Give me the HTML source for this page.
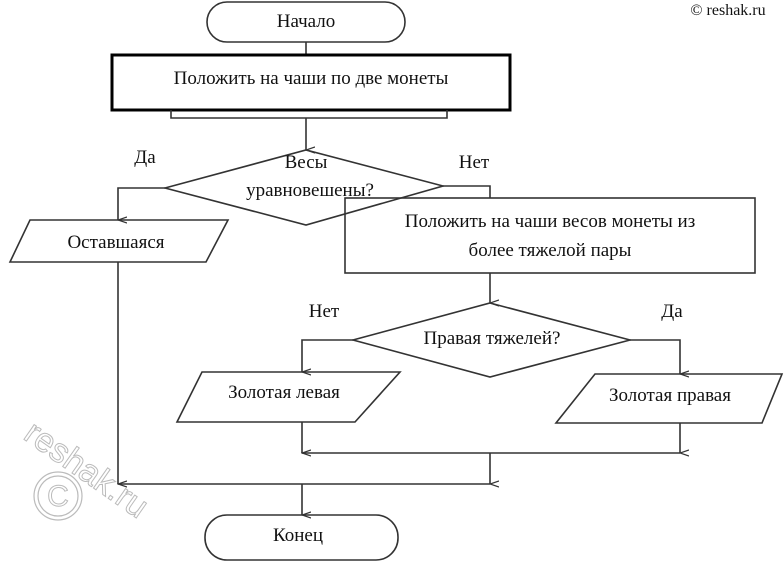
<!DOCTYPE html>
<html><head><meta charset="utf-8"><style>
html,body{margin:0;padding:0;background:#fff;}
svg{display:block;}
text{font-family:"Liberation Serif",serif;fill:#111;}
</style></head><body>
<svg width="784" height="564" viewBox="0 0 784 564" xmlns="http://www.w3.org/2000/svg">
<defs><marker id="a" markerWidth="8" markerHeight="10" refX="4" refY="9" orient="auto" markerUnits="userSpaceOnUse"><path d="M1,0 L4,9 L7,0" fill="none" stroke="#333" stroke-width="1.2"/></marker></defs>
<g fill="none" stroke="#333" stroke-width="1.6">
<rect x="207" y="2" width="198" height="40" rx="20"/>
<line x1="306" y1="42" x2="306" y2="55"/>
<rect x="112" y="55" width="398" height="55" stroke="#000" stroke-width="3"/>
<polyline points="171,110 171,118 447,118 447,110"/>
<line x1="306" y1="118" x2="306" y2="150" marker-end="url(#a)"/>
<polygon points="165,188 306,150 443,186 306,225"/>
<polyline points="165,188 118,188 118,220" marker-end="url(#a)"/>
<polygon points="30,220 228,220 206,262 10,262"/>
<polyline points="443,186 490,186 490,198"/>
<rect x="345" y="198" width="410" height="75"/>
<line x1="490" y1="273" x2="490" y2="303" marker-end="url(#a)"/>
<polygon points="490,303 630,340 490,377 353,340"/>
<polyline points="353,340 302,340 302,372" marker-end="url(#a)"/>
<polyline points="630,340 680,340 680,374" marker-end="url(#a)"/>
<polygon points="202,372 400,372 355,422 177,422"/>
<polygon points="595,374 782,374 762,423 556,423"/>
<line x1="302" y1="422" x2="302" y2="453" marker-end="url(#a)"/>
<line x1="680" y1="423" x2="680" y2="453" marker-end="url(#a)"/>
<line x1="302" y1="453" x2="680" y2="453"/>
<line x1="490" y1="453" x2="490" y2="484" marker-end="url(#a)"/>
<line x1="118" y1="262" x2="118" y2="484" marker-end="url(#a)"/>
<line x1="118" y1="484" x2="490" y2="484"/>
<line x1="302" y1="484" x2="302" y2="515" marker-end="url(#a)"/>
<rect x="205" y="515" width="193" height="45" rx="22"/>
</g>
<g fill="none" stroke="#bbb" stroke-width="1.2">
<circle cx="58" cy="496" r="24"/><circle cx="58" cy="496" r="20"/>
</g>
<text x="58" y="506" font-size="30" text-anchor="middle" style="fill:#fff;stroke:#bbb;stroke-width:1;font-family:'Liberation Sans',sans-serif">C</text>
<text transform="translate(22,438) rotate(35)" font-size="34" style="fill:#fff;stroke:#bbb;stroke-width:1;font-family:'Liberation Sans',sans-serif">reshak.ru</text>
<g font-size="19" text-anchor="middle">
<text x="306" y="27">Начало</text>
<text x="311" y="84">Положить на чаши по две монеты</text>
<text x="306" y="168">Весы</text>
<text x="310" y="196">уравновешены?</text>
<text x="145" y="163">Да</text>
<text x="474" y="168">Нет</text>
<text x="116" y="248">Оставшаяся</text>
<text x="550" y="227">Положить на чаши весов монеты из</text>
<text x="550" y="256">более тяжелой пары</text>
<text x="492" y="344">Правая тяжелей?</text>
<text x="324" y="317">Нет</text>
<text x="672" y="317">Да</text>
<text x="284" y="398">Золотая левая</text>
<text x="670" y="401">Золотая правая</text>
<text x="298" y="541">Конец</text>
<text x="728" y="15" font-size="16">© reshak.ru</text>
</g>
</svg>
</body></html>
